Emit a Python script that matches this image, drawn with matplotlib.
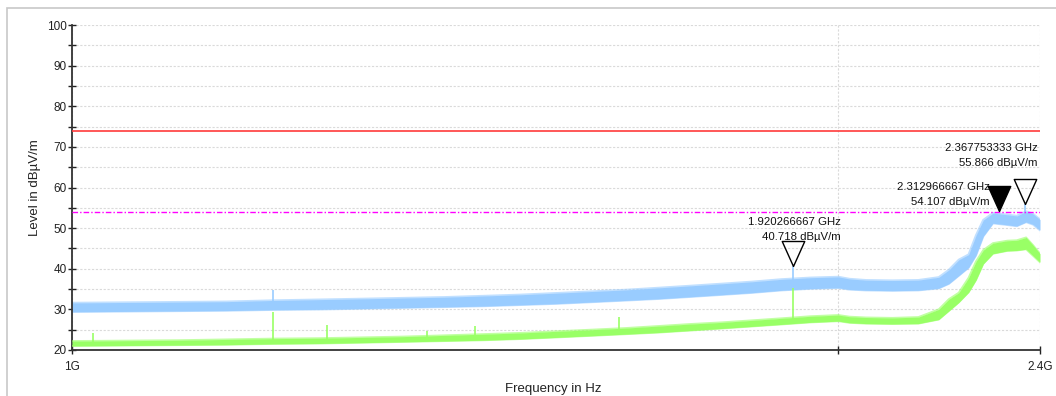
import numpy as np
import matplotlib
matplotlib.use('Agg')
import matplotlib.pyplot as plt
from matplotlib.patches import Rectangle
from matplotlib.ticker import FixedLocator, NullFormatter

plt.rcParams['font.family'] = ['Liberation Sans', 'DejaVu Sans']

# --------------------------------------
# data (GHz / dBuV/m)
# --------------------------------------
freq_ghz = [1.00, 1.05, 1.10, 1.15, 1.20, 1.25, 1.30, 1.35, 1.40, 1.45,
            1.50, 1.55, 1.60, 1.65, 1.70, 1.75, 1.80, 1.85, 1.90, 1.95,
            2.00, 2.02, 2.05, 2.10, 2.15, 2.19, 2.21, 2.23, 2.25, 2.265,
            2.28, 2.30, 2.33, 2.35, 2.37, 2.385, 2.40]

# peak trace (blue) - lower / upper edge of the noise band
peak_lo = [29.4, 29.5, 29.6, 29.7, 29.9, 30.0, 30.2, 30.4, 30.6, 30.8,
           31.1, 31.4, 31.8, 32.2, 32.6, 33.1, 33.6, 34.1, 34.7, 35.1,
           35.3, 34.9, 34.7, 34.6, 34.7, 35.2, 36.3, 38.3, 40.3, 43.3,
           48.0, 51.2, 50.8, 50.5, 51.5, 50.9, 49.5]
peak_hi = [31.6, 31.7, 31.8, 31.9, 32.2, 32.4, 32.6, 32.8, 33.0, 33.3,
           33.6, 34.0, 34.4, 34.8, 35.3, 35.8, 36.3, 36.8, 37.4, 37.8,
           38.0, 37.5, 37.2, 37.1, 37.2, 37.9, 39.7, 42.2, 43.5, 48.2,
           52.0, 53.7, 53.3, 53.0, 54.1, 53.5, 52.1]

# average trace (green)
avg_lo = [21.0, 21.1, 21.2, 21.3, 21.5, 21.6, 21.8, 22.0, 22.2, 22.4,
          22.7, 23.1, 23.5, 23.9, 24.3, 24.8, 25.3, 25.8, 26.3, 26.8,
          27.1, 26.7, 26.5, 26.4, 26.5, 27.5, 29.6, 31.7, 34.2, 37.2,
          41.2, 43.7, 44.4, 44.5, 44.8, 43.2, 41.6]
avg_hi = [22.2, 22.3, 22.4, 22.6, 22.8, 22.9, 23.1, 23.3, 23.6, 23.9,
          24.2, 24.6, 25.0, 25.4, 25.9, 26.4, 26.8, 27.3, 27.8, 28.3,
          28.6, 28.2, 28.0, 27.9, 28.1, 30.0, 32.5, 34.1, 37.8, 41.8,
          44.6, 46.3, 46.9, 47.0, 47.7, 45.8, 43.7]

# narrow spikes sticking out of the band
peak_spike_f = [1.199, 1.920, 2.3678]
peak_spike_v = [34.8, 40.7, 55.9]
avg_spike_f = [1.019, 1.199, 1.259, 1.379, 1.440, 1.640, 1.920]
avg_spike_v = [24.3, 29.4, 26.2, 24.7, 25.9, 28.2, 35.2]

limit_peak = 74.0
limit_avg = 54.0

# markers: frequency (GHz), level, filled?
mark_f = [1.920266667, 2.312966667, 2.367753333]
mark_v = [40.718, 54.107, 55.866]
mark_filled = [False, True, False]
mark_text = ['1.920266667 GHz\n40.718 dB\u00b5V/m',
             '2.312966667 GHz\n54.107 dB\u00b5V/m',
             '2.367753333 GHz\n55.866 dB\u00b5V/m']
mark_offset = [(34, 17.5), (-7, 3), (9, 26)]  # points

# --------------------------------------
# plot
# --------------------------------------
fig = plt.figure(figsize=(10.56, 3.96), dpi=100)
ax = fig.add_axes([72 / 1056, 46 / 396, 968 / 1056, 325 / 396])

f_hz = np.array(freq_ghz) * 1e9
blue = '#99ccff'
green = '#99ff66'

# peak trace: solid core + soft fringe
ax.fill_between(f_hz, peak_lo, peak_hi, color=blue, lw=0, zorder=2)
ax.plot(f_hz, peak_lo, color=blue, lw=1.6, alpha=0.6, zorder=2)
ax.plot(f_hz, peak_hi, color=blue, lw=1.6, alpha=0.6, zorder=2)
ax.vlines(np.array(peak_spike_f) * 1e9, np.interp(peak_spike_f, freq_ghz, peak_lo),
          peak_spike_v, color=blue, lw=1.2, zorder=2)

# average trace
ax.fill_between(f_hz, avg_lo, avg_hi, color=green, lw=0, zorder=3)
ax.plot(f_hz, avg_lo, color=green, lw=1.4, alpha=0.6, zorder=3)
ax.plot(f_hz, avg_hi, color=green, lw=1.4, alpha=0.6, zorder=3)
ax.vlines(np.array(avg_spike_f) * 1e9, np.interp(avg_spike_f, freq_ghz, avg_lo),
          avg_spike_v, color=green, lw=1.2, zorder=3)

ax.axhline(limit_peak, color='#ff3b3b', lw=1.2, zorder=4)
ax.axhline(limit_avg, color='#ff00ff', lw=1.0, ls=(0, (4, 1.5, 1, 1.5)), zorder=4)

tri = [(0, 0), (-0.45, 1), (0.45, 1), (0, 0)]
for f, v, filled, txt, off in zip(mark_f, mark_v, mark_filled, mark_text, mark_offset):
    ax.plot(f * 1e9, v, marker=tri, markersize=36, color='black',
            markerfacecolor='black' if filled else 'none', markeredgewidth=1.0,
            zorder=6, clip_on=False)
    ax.annotate(txt, xy=(f * 1e9, v), xytext=off, textcoords='offset points',
                ha='right', va='bottom', fontsize=8.2, linespacing=1.6,
                multialignment='right', zorder=7, color='#111111')

ax.set_xscale('log')
ax.set_xlim(1e9, 2.4e9)
ax.set_ylim(20, 100)

ax.xaxis.set_major_locator(FixedLocator([1e9, 2e9, 2.4e9]))
ax.set_xticklabels(['1G', '', '2.4G'])
ax.xaxis.set_minor_locator(FixedLocator([]))
ax.xaxis.set_minor_formatter(NullFormatter())
ax.yaxis.set_major_locator(FixedLocator(np.arange(20, 101, 10)))
ax.yaxis.set_minor_locator(FixedLocator(np.arange(25, 100, 10)))

ax.tick_params(axis='both', which='both', direction='inout', length=6,
               width=1, color='#222222', labelsize=8.5, labelcolor='#222222')
ax.tick_params(axis='y', pad=1)
ax.tick_params(axis='x', pad=5)

for sp in ['top', 'right']:
    ax.spines[sp].set_visible(False)
for sp in ['left', 'bottom']:
    ax.spines[sp].set_color('#333333')
    ax.spines[sp].set_linewidth(1.3)

ax.grid(True, which='both', axis='y', color='#dadada', lw=0.8, ls=(0, (2, 1.5)))
ax.grid(True, which='major', axis='x', color='#dadada', lw=0.8, ls=(0, (2, 1.5)))
ax.set_axisbelow(True)

ax.set_ylabel('Level in dB\u00b5V/m', fontsize=9.5, color='#222222')
ax.yaxis.set_label_coords(-0.032, 0.5)
fig.text(553 / 1056, (396 - 383) / 396, 'Frequency in Hz', fontsize=9.5,
         ha='center', va='top', color='#222222')

# outer frame of the report page
fig.patches.append(Rectangle((7 / 1056, -0.2), 1.5, 0.2 + (396 - 8) / 396,
                             transform=fig.transFigure, fill=False,
                             edgecolor='#c8c8c8', lw=1.2))

fig.savefig('out.png', dpi=100)
